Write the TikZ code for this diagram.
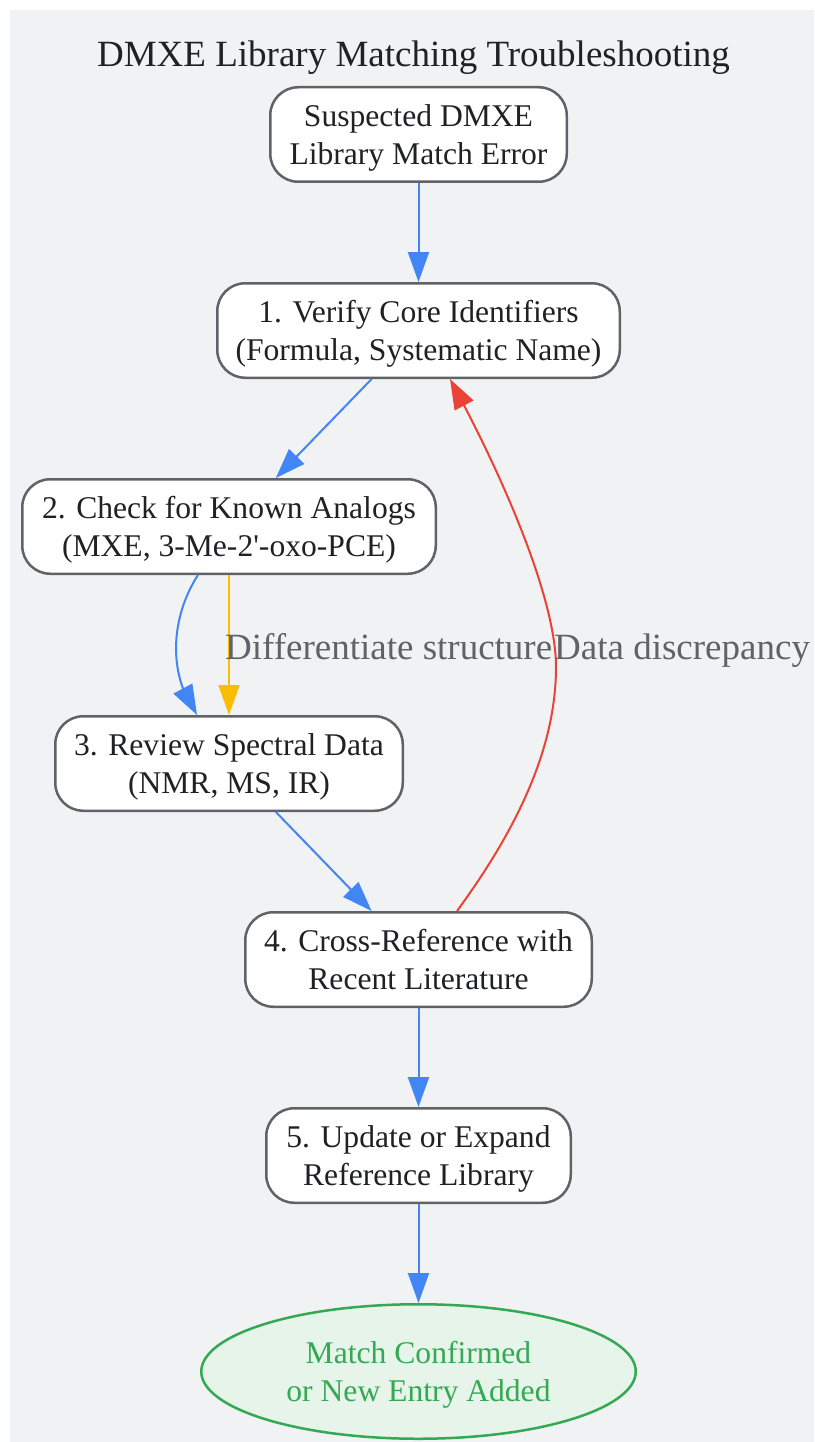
\documentclass[tikz,border=0pt]{standalone}
\usepackage{fontspec}
\setmainfont{Liberation Serif}
\usetikzlibrary{arrows.meta,bending,shapes.geometric}
\definecolor{panelbg}{HTML}{F1F2F4}
\definecolor{nodeborder}{HTML}{5F6368}
\definecolor{nodetext}{HTML}{202124}
\definecolor{labeltext}{HTML}{5F6368}
\definecolor{gblue}{HTML}{4285F4}
\definecolor{gyellow}{HTML}{FBBC04}
\definecolor{gred}{HTML}{EA4335}
\definecolor{ggreen}{HTML}{34A853}
\definecolor{greenfill}{HTML}{E6F4EA}
\tikzset{
  stepbox/.style={draw=nodeborder, fill=white, line width=2.5pt, rounded corners=28pt,
    align=center, inner sep=0pt, minimum height=94.5pt, text=nodetext,
    text height=59.6pt, text depth=0pt,
    font=\fontsize{31.6}{37.6}\selectfont},
  endbox/.style={ellipse, draw=ggreen, fill=greenfill, line width=2.5pt, align=center,
    inner sep=0pt, minimum width=434.5pt, minimum height=134.5pt, text=ggreen,
    text height=59.6pt, text depth=0pt,
    font=\fontsize{31.6}{37.6}\selectfont},
  conn/.style={line width=2pt, -{Triangle[length=30pt,width=21pt,flex]}},
  edgelabel/.style={text=labeltext, font=\fontsize{37}{44}\selectfont, inner sep=0pt, anchor=base west},
}
\begin{document}
\begin{tikzpicture}[x=1pt,y=-1pt]
\useasboundingbox (0,0) rectangle (814,1442);
\fill[white] (0,0) rectangle (814,1442);
\fill[panelbg] (10,10) rectangle (814,1442);
\node[text=nodetext, font=\fontsize{37}{44}\selectfont, inner sep=0pt, anchor=base] (title) at (413.5,66.7) {DMXE Library Matching Troubleshooting};
\node[stepbox, minimum width=296.5pt] (s0) at (418.5,134.5) {Suspected DMXE\\Library Match Error};
\node[stepbox, minimum width=402.5pt] (s1) at (418.5,330.5) {1. Verify Core Identifiers\\(Formula, Systematic Name)};
\node[stepbox, minimum width=413.5pt] (s2) at (229,526.5) {2. Check for Known Analogs\\(MXE, 3-Me-2\textquotesingle-oxo-PCE)};
\node[stepbox, minimum width=347.5pt] (s3) at (229,763.5) {3. Review Spectral Data\\(NMR, MS, IR)};
\node[stepbox, minimum width=346.5pt] (s4) at (418.5,959.5) {4. Cross-Reference with\\Recent Literature};
\node[stepbox, minimum width=304.5pt] (s5) at (418.5,1155.5) {5. Update or Expand\\Reference Library};
\node[endbox] (done) at (418.5,1371.5) {Match Confirmed\\or New Entry Added};
\draw[conn, gblue] (s0) -- (s1);
\draw[conn, gblue] (s1) -- (s2);
\draw[conn, gblue] ([xshift=-31pt]s2.south) .. controls (172,615) and (166,672) .. ([xshift=-32pt]s3.north);
\draw[conn, gyellow] (s2) -- (s3);
\draw[conn, gblue] (s3) -- (s4);
\draw[conn, gred] ([xshift=38.5pt]s4.north) .. controls (520,825) and (556,745) .. (556,667)
  .. controls (556,600) and (505,480) .. ([xshift=31.5pt]s1.south);
\draw[conn, gblue] (s4) -- (s5);
\draw[conn, gblue] (s5) -- (done);
\node[edgelabel] (l1) at (225,659) {Differentiate structure};
\node[edgelabel] (l2) at (554,659) {Data discrepancy};
\end{tikzpicture}
\end{document}
